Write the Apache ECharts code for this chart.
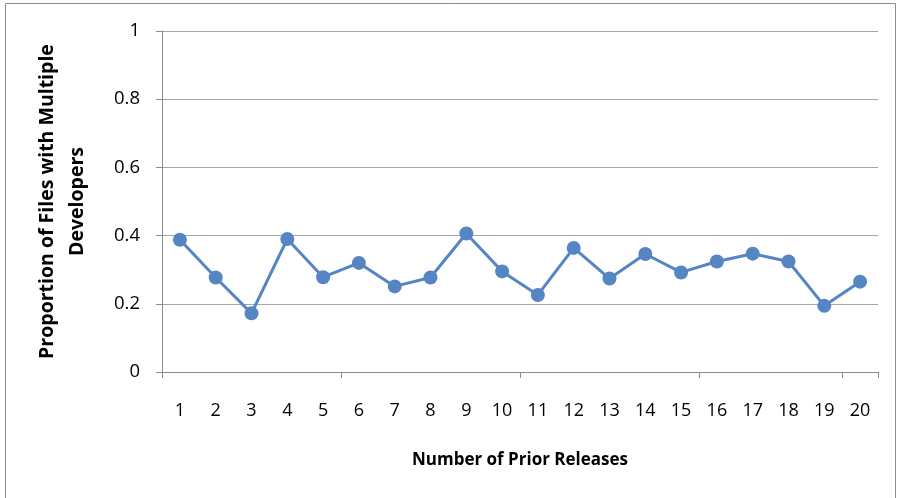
<!DOCTYPE html>
<html>
<head>
<meta charset="utf-8">
<style>
  html, body { margin: 0; padding: 0; background: #ffffff; }
  #chart { width: 902px; height: 498px; }
</style>
<script src="https://cdn.jsdelivr.net/npm/echarts@6/dist/echarts.min.js"></script>
</head>
<body>
<div id="chart"></div>
<script>
// Number of prior releases (category axis)
const releases = ['1','2','3','4','5','6','7','8','9','10','11','12','13','14','15','16','17','18','19','20'];
// Proportion of files touched by more than one developer
const proportion = [0.388, 0.277, 0.172, 0.390, 0.278, 0.320, 0.251, 0.277, 0.406, 0.295,
                    0.226, 0.364, 0.274, 0.346, 0.292, 0.324, 0.347, 0.324, 0.194, 0.265];

const FONT = "'Open Sans', sans-serif";
const BLUE = '#5585c2';
const GRID_GRAY = '#a6a6a6';

const chart = echarts.init(document.getElementById('chart'), null, { renderer: 'canvas' });

chart.setOption({
  backgroundColor: '#ffffff',
  animation: false,
  graphic: [{
    type: 'rect',
    silent: true,
    shape: { x: 5.5, y: 3.5, width: 890, height: 520 },
    style: { fill: 'none', stroke: '#8c8c8c', lineWidth: 1 }
  }],
  grid: { left: 162, right: 24, top: 31, bottom: 126, containLabel: false },
  xAxis: {
    type: 'category',
    data: releases,
    boundaryGap: true,
    name: 'Number of Prior Releases',
    nameLocation: 'middle',
    nameGap: 80,
    nameTextStyle: { fontFamily: FONT, fontSize: 17, fontWeight: 'bold', color: '#000000' },
    axisLine: { show: true, lineStyle: { color: '#8c8c8c', width: 1 } },
    axisTick: { show: true, interval: 4, length: 6, lineStyle: { color: '#8c8c8c' } },
    axisLabel: { interval: 0, margin: 30, fontFamily: FONT, fontSize: 18, color: '#000000' },
    splitLine: { show: false }
  },
  yAxis: {
    type: 'value',
    min: 0,
    max: 1,
    interval: 0.2,
    name: 'Proportion of Files with Multiple\nDevelopers',
    nameLocation: 'middle',
    nameRotate: 90,
    nameGap: 70,
    nameTextStyle: { fontFamily: FONT, fontSize: 19.5, fontWeight: 'bold', color: '#000000', lineHeight: 30, align: 'center' },
    axisLine: { show: true, lineStyle: { color: '#8c8c8c', width: 1 } },
    axisTick: { show: true, length: 6, lineStyle: { color: '#8c8c8c' } },
    axisLabel: { margin: 22, fontFamily: FONT, fontSize: 18.5, color: '#000000' },
    splitLine: { show: true, lineStyle: { color: GRID_GRAY, width: 1 } }
  },
  series: [{
    type: 'line',
    data: proportion,
    symbol: 'circle',
    symbolSize: 14,
    itemStyle: { color: BLUE },
    lineStyle: { color: BLUE, width: 3 }
  }]
});
</script>
</body>
</html>
